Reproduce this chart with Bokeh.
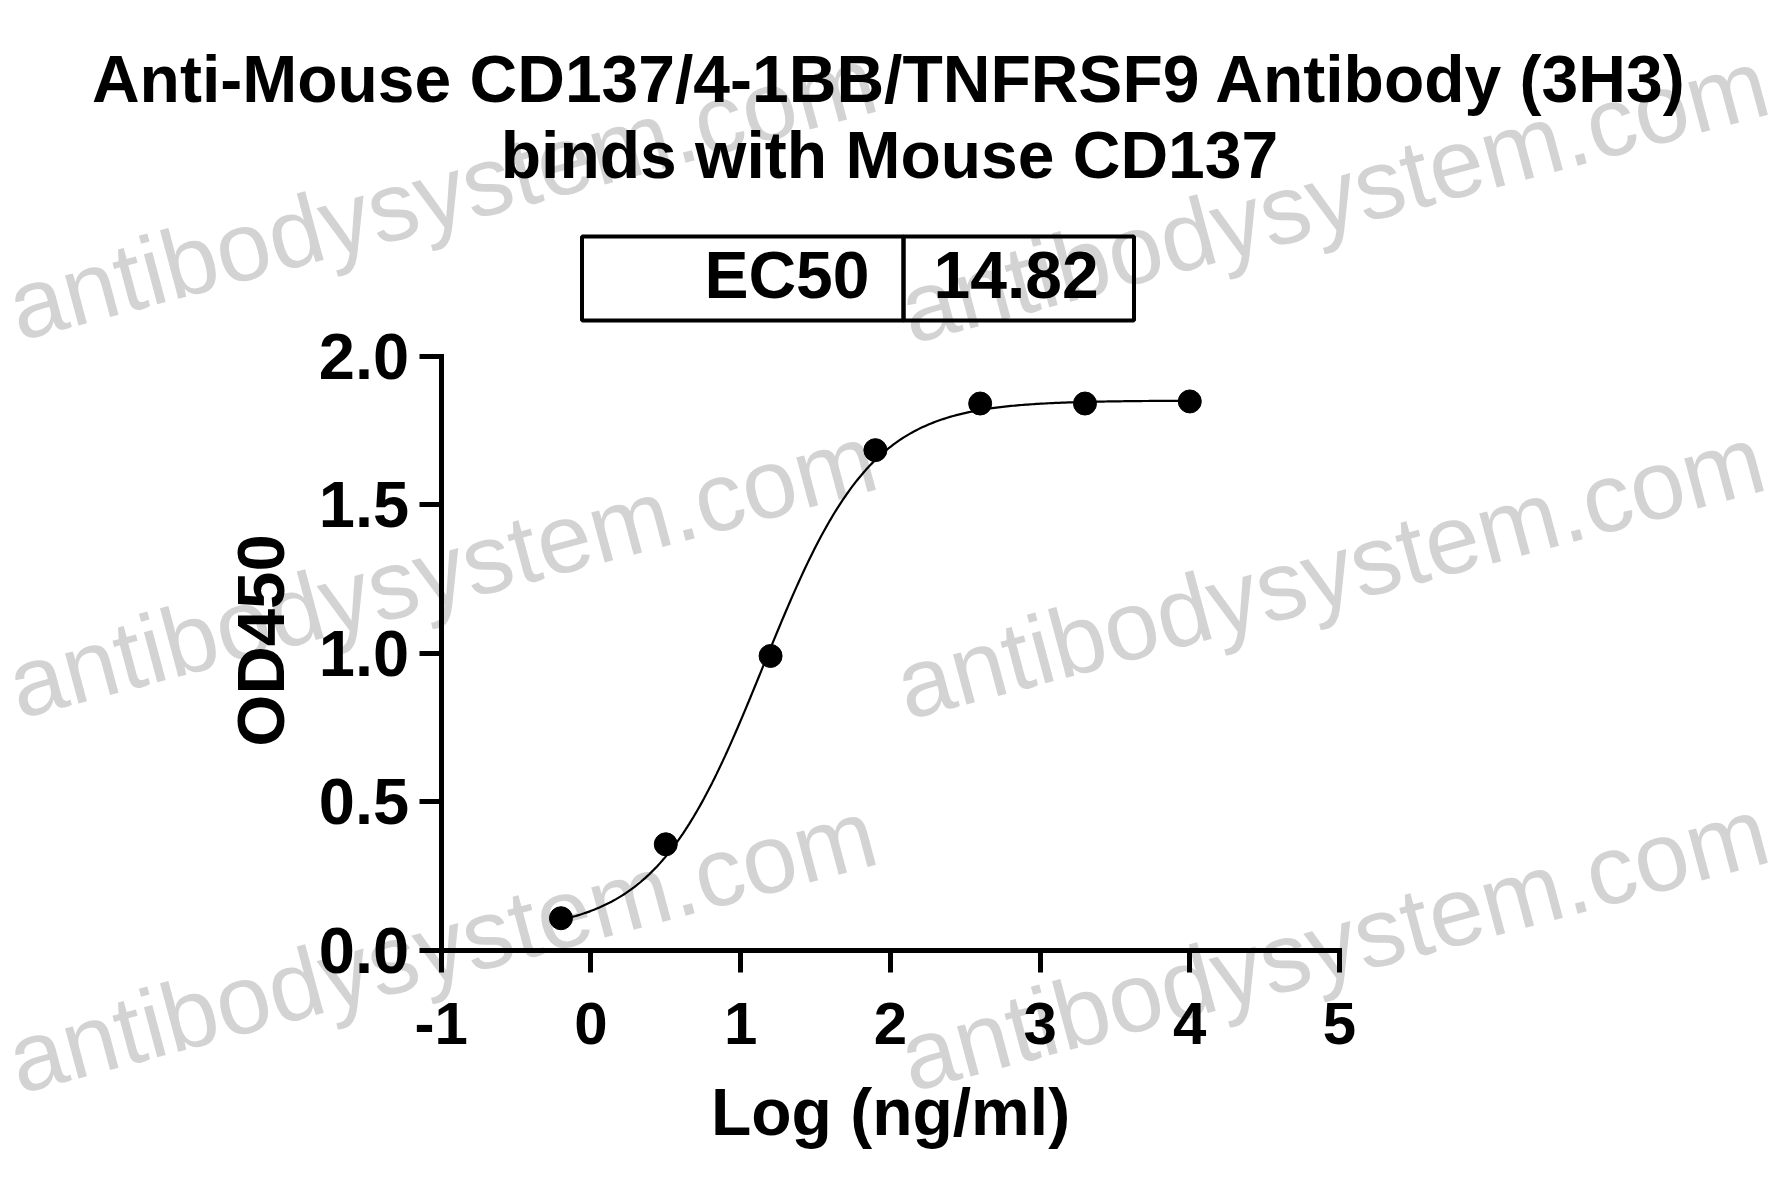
import numpy as np
from bokeh.plotting import figure
from bokeh.models import Label, BoxAnnotation, FixedTicker, ColumnDataSource, Range1d
from bokeh.embed import file_html
from bokeh.resources import INLINE

# ---- data ----
log_conc = [-0.2, 0.5, 1.2, 1.9, 2.6, 3.3, 4.0]
od450 = [0.107, 0.356, 0.99, 1.683, 1.84, 1.84, 1.847]
# 4PL fit parameters of the drawn curve
fit_bottom = 0.06
fit_top = 1.85
fit_logec50 = 1.15
fit_hill = 1.2
ec50_value = "14.82"

x_ticks = [-1, 0, 1, 2, 3, 4, 5]
y_ticks = [0.0, 0.5, 1.0, 1.5, 2.0]
title_lines = ["Anti-Mouse CD137/4-1BB/TNFRSF9 Antibody (3H3)", "binds with Mouse CD137"]
x_label = "Log (ng/ml)"
y_label = "OD450"
watermark = "antibodysystem.com"

# ---- layout (reference pixel geometry) ----
FL, FR, FT, FB = 440.7, 1339.0, 355.5, 949.5   # axes box in page pixels
XB = (-1.0, 5.0)
YB = (0.0, 2.0)
W, H = 1781, 1197
FONT = "Liberation Sans"


def dx(px):
    return XB[0] + (px - FL) / (FR - FL) * (XB[1] - XB[0])


def dy(py):
    return YB[0] + (FB - py) / (FB - FT) * (YB[1] - YB[0])


p = figure(frame_width=W, frame_height=H,
           x_range=Range1d(dx(0), dx(W)), y_range=Range1d(dy(H), dy(0)),
           output_backend="svg", toolbar_location=None,
           min_border=0, min_border_left=0, min_border_right=0,
           min_border_top=0, min_border_bottom=0)
p.outline_line_color = None
p.xgrid.visible = False
p.ygrid.visible = False
p.background_fill_color = "white"
p.border_fill_color = "white"

# watermarks (baseline start points)
wm_positions = [(10, 338), (902, 341), (10, 716), (898, 717), (10, 1091), (902, 1089)]
for (wx, wy) in wm_positions:
    p.add_layout(Label(x=dx(wx), y=dy(wy - 30), text=watermark, angle=15, angle_units="deg",
                       text_font=FONT, text_font_size="98px", text_color="#d3d3d3",
                       text_align="left", text_baseline="alphabetic", level="underlay"))

# fitted curve
xc = np.linspace(min(log_conc), max(log_conc), 300)
yc = fit_bottom + (fit_top - fit_bottom) / (1 + 10 ** ((fit_logec50 - xc) * fit_hill))
p.line(xc, yc, line_color="black", line_width=2.2)

src = ColumnDataSource(dict(x=log_conc, y=od450))
p.scatter("x", "y", source=src, size=23, fill_color="black", line_color="black")

# axes
for ax in (p.xaxis[0], p.yaxis[0]):
    ax.axis_line_width = 5
    ax.axis_line_color = "black"
    ax.axis_line_cap = "square"
    ax.major_tick_line_width = 5
    ax.major_tick_line_color = "black"
    ax.major_tick_in = 0
    ax.major_tick_out = 22
    ax.minor_tick_line_color = None
    ax.major_label_text_font = FONT
    ax.major_label_text_font_style = "bold"
    ax.major_label_text_color = "black"
    ax.axis_label_text_font = FONT
    ax.axis_label_text_font_style = "bold"
    ax.axis_label_text_color = "black"

p.xaxis.fixed_location = YB[0]
p.xaxis.bounds = XB
p.xaxis.ticker = FixedTicker(ticks=x_ticks)
p.xaxis.major_label_overrides = {t: str(t) for t in x_ticks}
p.xaxis.major_label_text_font_size = "60px"
p.xaxis.major_label_standoff = 31
p.xaxis.axis_label = x_label
p.xaxis.axis_label_text_font_size = "66px"
p.xaxis.axis_label_standoff = 27

p.yaxis.fixed_location = XB[0]
p.yaxis.bounds = YB
p.yaxis.ticker = FixedTicker(ticks=y_ticks)
p.yaxis.major_label_overrides = {t: f"{t:.1f}" for t in y_ticks}
p.yaxis.major_label_text_font_size = "65px"
p.yaxis.major_label_standoff = 10

# y axis title placed as a rotated label
YS = 67
p.add_layout(Label(x=dx(284 - 0.355 * YS), y=dy(640), text=y_label, angle=90, angle_units="deg",
                   text_font=FONT, text_font_style="bold", text_color="black",
                   text_font_size=f"{YS}px", text_align="center", text_baseline="alphabetic"))

# title
TS = 66
p.add_layout(Label(x=dx(889), y=dy(102 - 0.355 * TS), text=title_lines[0], text_font=FONT,
                   text_font_style="bold", text_color="black",
                   text_font_size=f"{TS}px", text_align="center", text_baseline="alphabetic"))
p.add_layout(Label(x=dx(889), y=dy(178 - 0.355 * TS), text=title_lines[1], text_font=FONT,
                   text_font_style="bold", text_color="black",
                   text_font_size=f"{TS}px", text_align="center", text_baseline="alphabetic"))

# EC50 table
for (l, r) in [(581.5, 903), (903, 1133.5)]:
    p.add_layout(BoxAnnotation(left=dx(l), right=dx(r), top=dy(236), bottom=dy(320),
                               fill_alpha=0, line_color="black", line_alpha=1.0,
                               line_width=4, level="annotation"))
ES = 66
p.add_layout(Label(x=dx(869), y=dy(298 - 0.355 * ES), text="EC50", text_font=FONT,
                   text_font_style="bold", text_color="black",
                   text_font_size=f"{ES}px", text_align="right", text_baseline="alphabetic"))
p.add_layout(Label(x=dx(933), y=dy(298 - 0.355 * ES), text=ec50_value, text_font=FONT,
                   text_font_style="bold", text_color="black",
                   text_font_size=f"{ES}px", text_align="left", text_baseline="alphabetic"))

open("out.html", "w").write(file_html(p, INLINE))
